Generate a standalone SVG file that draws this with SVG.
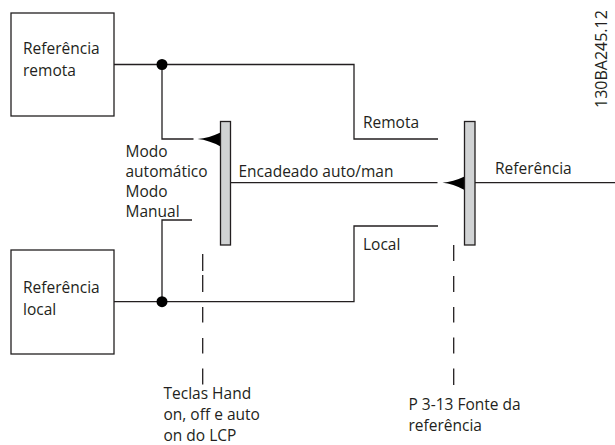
<svg xmlns="http://www.w3.org/2000/svg" width="615" height="445" viewBox="0 0 615 445">
  <style>
    text { font-family: "Open Sans", "DejaVu Sans", sans-serif; font-size: 15.5px; fill: #231f20; }
    .box { fill: #ffffff; stroke: #231f20; stroke-width: 1.3; }
    .bar { fill: #d1d3d4; stroke: #231f20; stroke-width: 1.3; }
    .wire { fill: none; stroke: #231f20; stroke-width: 1.3; }
    .dash { fill: none; stroke: #231f20; stroke-width: 1.3; }
    .head { fill: #000000; stroke: none; }
    .dot { fill: #000000; }
  </style>
  <rect width="615" height="445" fill="#ffffff"/>

  <g id="connectors">
    <path class="wire" d="M114,64.5 H354 V139 H438"/>
    <path class="wire" d="M162,64.5 V139 H193.5"/>
    <path class="wire" d="M114,301.7 H354 V226 H438"/>
    <path class="wire" d="M162,301.7 V220 H192"/>
    <path class="wire" d="M230.5,182.7 H437.5"/>
    <path class="wire" d="M475,182.7 H615"/>
    <path class="head" d="M220.5,132.5 Q209,138 197.5,139 Q209,140 220.5,146.5 Z"/>
    <path class="head" d="M464.5,176.5 Q453,182 442.5,182.7 Q453,183.5 464.5,190 Z"/>
    <circle class="dot" cx="162" cy="64.5" r="5.5"/>
    <circle class="dot" cx="162" cy="301.7" r="5.5"/>
    <path class="dash" d="M202.7,254 V271 M202.7,275 V292 M202.7,307 V322.5 M202.7,338 V353.5 M202.7,368.5 V384.5"/>
    <path class="dash" d="M453.7,245 V261 M453.7,276 V292 M453.7,307 V322.5 M453.7,337.5 V353.5 M453.7,368.5 V385"/>
  </g>

  <g id="remote-ref">
    <rect class="box" x="11" y="13" width="103" height="103"/>
    <text x="23" y="54">Referência</text>
    <text x="23" y="76">remota</text>
  </g>

  <g id="local-ref">
    <rect class="box" x="11" y="250" width="103" height="104"/>
    <text x="23" y="292.7">Referência</text>
    <text x="23" y="315">local</text>
  </g>

  <g id="switch-auto-man">
    <rect class="bar" x="220.5" y="121.5" width="10" height="123.5"/>
  </g>

  <g id="switch-ref-source">
    <rect class="bar" x="464.5" y="121.5" width="10.5" height="123.5"/>
  </g>

  <g id="labels">
    <text x="125.5" y="157">Modo</text>
    <text x="125.5" y="177">automático</text>
    <text x="125.5" y="197">Modo</text>
    <text x="125.5" y="217">Manual</text>
    <text x="363" y="128">Remota</text>
    <text x="238.5" y="177">Encadeado auto/man</text>
    <text x="495" y="173.5">Referência</text>
    <text x="363" y="250">Local</text>
    <text x="163.5" y="398.5">Teclas Hand</text>
    <text x="163.5" y="419.5">on, off e auto</text>
    <text x="163.5" y="440.5">on do LCP</text>
    <text x="408.5" y="410">P 3-13 Fonte da</text>
    <text x="408.5" y="430.5">referência</text>
    <text transform="translate(606.5,108) rotate(-90)" style="font-size:16px">130BA245.12</text>
  </g>
</svg>
